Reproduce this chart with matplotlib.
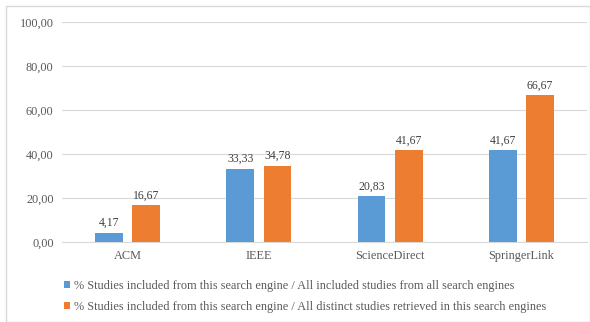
import matplotlib
matplotlib.use("Agg")
import matplotlib.pyplot as plt
import numpy as np
from matplotlib.patches import Rectangle

categories = ["ACM", "IEEE", "ScienceDirect", "SpringerLink"]
series1 = [4.17, 33.33, 20.83, 41.67]
series2 = [16.67, 34.78, 41.67, 66.67]
labels = ["% Studies included from this search engine / All included studies from all search engines",
          "% Studies included from this search engine / All distinct studies retrieved in this search engines"]
colors = ["#5B9BD5", "#ED7D31"]
yticks = [0, 20, 40, 60, 80, 100]

plt.rcParams['font.family'] = ['Liberation Serif', 'DejaVu Serif']
fig = plt.figure(figsize=(5.9, 3.22), dpi=100)
ax = fig.add_axes([0.105, 0.248, 0.89, 0.684])

x = np.arange(len(categories))
w = 0.212
off = 0.142
fmt = lambda v: f"{v:.2f}".replace(".", ",")
b1 = ax.bar(x - off, series1, w, color=colors[0], label=labels[0], zorder=3)
b2 = ax.bar(x + off, series2, w, color=colors[1], label=labels[1], zorder=3)
for bars, vals in ((b1, series1), (b2, series2)):
    for r, v in zip(bars, vals):
        ax.text(r.get_x() + r.get_width() / 2, v + 1.8, fmt(v), ha="center", va="bottom",
                fontsize=8.5, color="#404040")

ax.set_xlim(-0.5, 3.5)
ax.set_ylim(0, 100)
ax.set_yticks(yticks)
ax.set_yticklabels([fmt(v) for v in yticks], fontsize=8.8, color="#595959")
ax.set_xticks(x)
ax.set_xticklabels(categories, fontsize=8.8, color="#595959")
ax.tick_params(length=0, pad=6)
ax.grid(axis="y", color="#d9d9d9", linewidth=0.8, zorder=0)
for s in ["top", "right", "left"]:
    ax.spines[s].set_visible(False)
ax.spines["bottom"].set_color("#d9d9d9")

fig.legend(handles=[b1, b2], labels=labels, loc="upper left", bbox_to_anchor=(0.1, 0.145),
           ncol=1, frameon=False, fontsize=8.8, handlelength=0.5, handleheight=0.5,
           handletextpad=0.3, labelspacing=0.7, borderaxespad=0, labelcolor="#595959")

fig.patches.append(Rectangle((6/590, 0.0), 1 - 6/590, 1 - 6/322, transform=fig.transFigure,
                             fill=False, edgecolor="#d9d9d9", linewidth=1))

fig.savefig("out.png", dpi=100, facecolor="white")
